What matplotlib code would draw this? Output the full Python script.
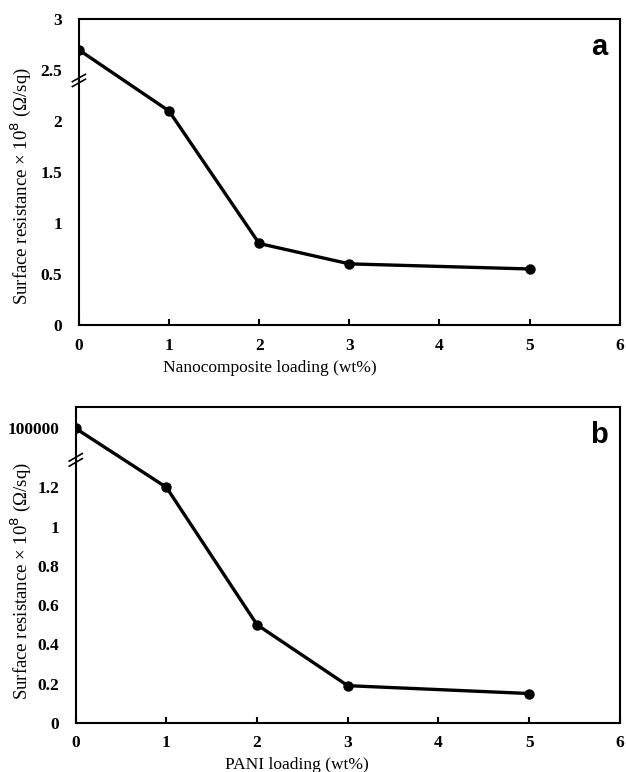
import numpy as np
import matplotlib.pyplot as plt

# panel a data
a_load = [0, 1, 2, 3, 5]
a_res = [2.7, 2.1, 0.8, 0.6, 0.55]
a_yticks = [0, 0.5, 1, 1.5, 2, 2.5, 3]
a_yticklabels = ["0", "0.5", "1", "1.5", "2", "2.5", "3"]

# panel b data (first point sits above the axis break, labelled 100000)
b_load = [0, 1, 2, 3, 5]
b_res = [1.5, 1.2, 0.5, 0.19, 0.15]
b_yticks = [0, 0.2, 0.4, 0.6, 0.8, 1.0, 1.2, 1.5]
b_yticklabels = ["0", "0.2", "0.4", "0.6", "0.8", "1", "1.2", "100000"]

xticks = [0, 1, 2, 3, 4, 5, 6]

serif = "Liberation Serif"
ylab = "Surface resistance × 10$^8$ (\u03A9/sq)"

fig = plt.figure(figsize=(6.26, 7.72), dpi=100)
ax_a = fig.add_axes([0.126, 0.579, 0.864, 0.396])
ax_b = fig.add_axes([0.121, 0.0635, 0.869, 0.4095])


def style(ax, x, y, ymax, yticks, yticklabels, xlabel, tag, brk,
          xlab_pos, ylab_x, ylab_y):
    ax.plot(x, y, color="black", lw=2.4, marker="o", ms=6.5)
    ax.set_xlim(0, 6)
    ax.set_ylim(0, ymax)
    ax.set_xticks(xticks)
    ax.set_xticklabels([str(t) for t in xticks], fontfamily=serif,
                       fontweight="bold", fontsize=12.5)
    ax.set_yticks(yticks)
    ax.set_yticklabels(yticklabels, fontfamily=serif, fontweight="bold",
                       fontsize=12.5)
    ax.tick_params(axis="x", direction="in", length=4, width=1.5, pad=9)
    ax.tick_params(axis="y", length=0, pad=12)
    for s in ax.spines.values():
        s.set_linewidth(1.5)
    ax.set_xlabel(xlabel, fontfamily=serif, fontsize=12.5)
    ax.xaxis.set_label_coords(*xlab_pos)
    ax.set_ylabel(ylab, fontfamily=serif, fontsize=13.5)
    ax.yaxis.set_label_coords(ylab_x, ylab_y)
    ax.text(0.978, 0.955, tag, transform=ax.transAxes, ha="right", va="top",
            fontfamily="Liberation Sans", fontweight="bold", fontsize=21)
    # axis break mark on the y spine
    yb = brk / ymax
    for dy in (-0.008, 0.008):
        ax.plot([-0.012, 0.012], [yb + dy - 0.012, yb + dy + 0.012],
                transform=ax.transAxes, color="black", lw=1.2, clip_on=False)


style(ax_a, a_load, a_res, 3, a_yticks, a_yticklabels,
      "Nanocomposite loading (wt%)", "a", 2.4,
      (0.353, -0.115), -0.085, 0.455)
style(ax_b, b_load, b_res, 1.61, b_yticks, b_yticklabels,
      "PANI loading (wt%)", "b", 1.34,
      (0.406, -0.107), -0.079, 0.45)

fig.savefig("out.png", dpi=100)
